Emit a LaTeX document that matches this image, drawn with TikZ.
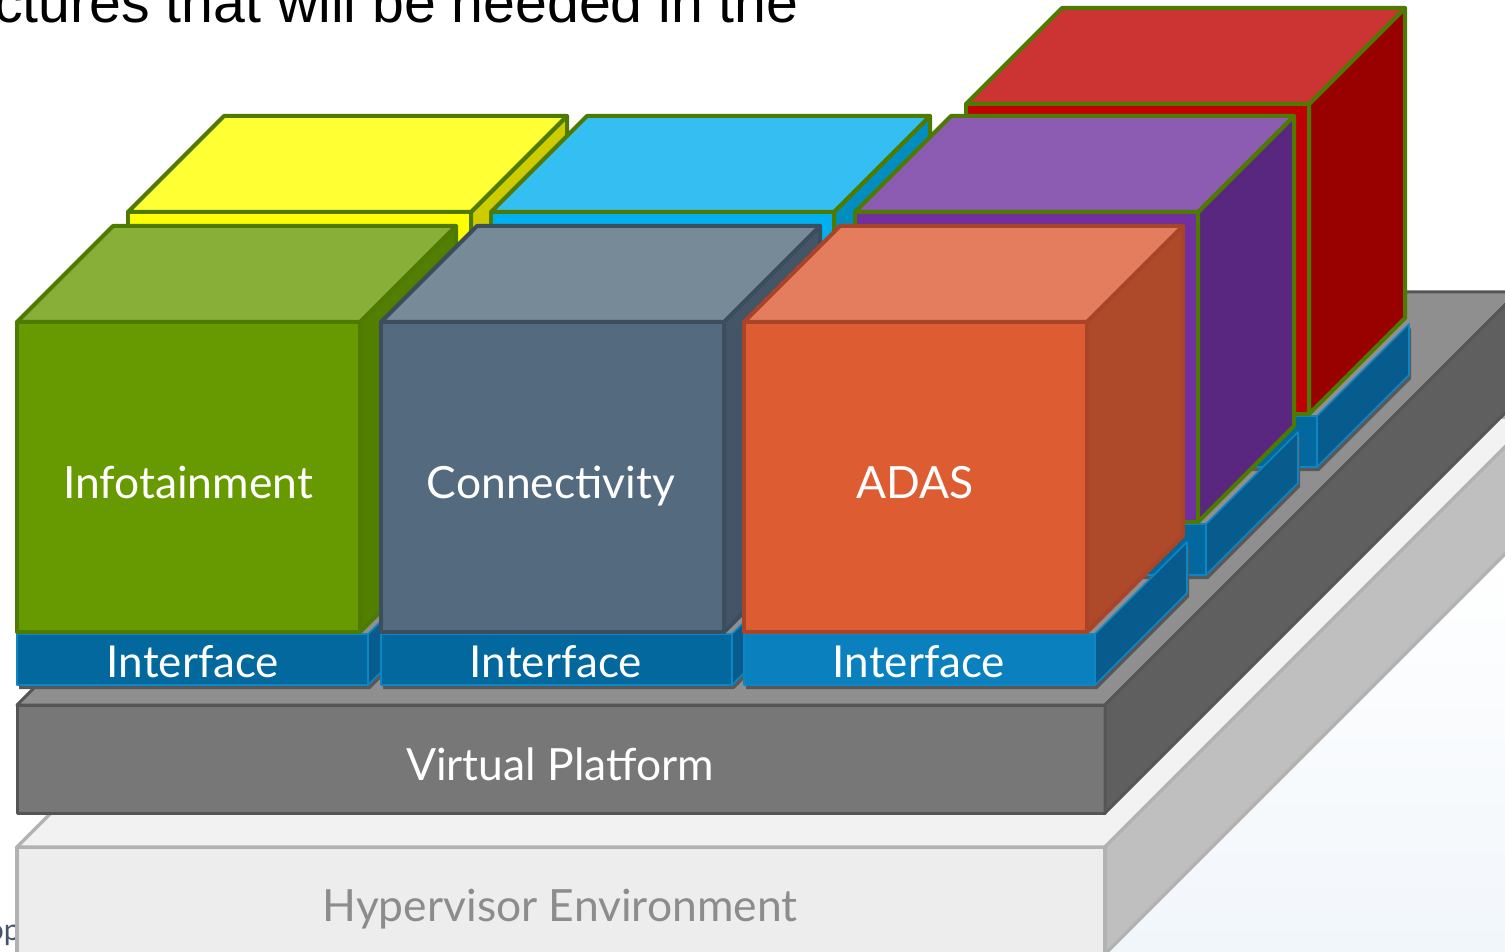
\documentclass[tikz,border=0pt]{standalone}
\usepackage{fontspec}
\newfontfamily\lato{Lato}
\newfontfamily\arialf{Liberation Sans}
\definecolor{gEdge}{HTML}{4E7A00}
\definecolor{gFront}{HTML}{679A01}
\definecolor{gTop}{HTML}{88AF37}
\definecolor{gRight}{HTML}{527F00}
\definecolor{sEdge}{HTML}{3C4D5D}
\definecolor{sFront}{HTML}{546A7F}
\definecolor{sTop}{HTML}{768A98}
\definecolor{sRight}{HTML}{435566}
\definecolor{oEdge}{HTML}{A84428}
\definecolor{oFront}{HTML}{DE5C32}
\definecolor{oTop}{HTML}{E47D5E}
\definecolor{oRight}{HTML}{AE4A29}
\definecolor{yFront}{HTML}{FFFF00}
\definecolor{yTop}{HTML}{FFFF33}
\definecolor{yRight}{HTML}{CCCC00}
\definecolor{cFront}{HTML}{00B0F0}
\definecolor{cTop}{HTML}{35BEF2}
\definecolor{cRight}{HTML}{008DC0}
\definecolor{pFront}{HTML}{7030A0}
\definecolor{pTop}{HTML}{8C5BB2}
\definecolor{pRight}{HTML}{592680}
\definecolor{rFront}{HTML}{C00000}
\definecolor{rTop}{HTML}{CC3333}
\definecolor{rRight}{HTML}{990000}
\definecolor{iFront}{HTML}{03689E}
\definecolor{iFrontL}{HTML}{0B80BF}
\definecolor{iRight}{HTML}{075C8D}
\definecolor{iEdge}{HTML}{0D86C6}
\definecolor{shadowg}{HTML}{585858}
\definecolor{vFront}{HTML}{777777}
\definecolor{vTop}{HTML}{8F8F8F}
\definecolor{vRight}{HTML}{5F5F5F}
\definecolor{vEdge}{HTML}{555555}
\definecolor{hFront}{HTML}{EDEDED}
\definecolor{hTop}{HTML}{F2F2F2}
\definecolor{hRight}{HTML}{BFBFBF}
\definecolor{hEdge}{HTML}{B2B2B2}
\definecolor{hText}{HTML}{8C8C8C}
\definecolor{slate}{HTML}{44546A}
\definecolor{bgblue}{HTML}{F1F6FB}
% cube: x0, ytop, front, top, right, edge
\newcommand\mycube[6]{%
  \filldraw[fill=#3, draw=#6, line width=2pt] (#1,#2) rectangle ({#1+343},{#2+310});
  \filldraw[fill=#5, draw=#6, line width=2pt] ({#1+343},#2) -- ({#1+439},{#2-96}) -- ({#1+439},{#2+214}) -- ({#1+343},{#2+310}) -- cycle;
  \filldraw[fill=#4, draw=#6, line width=2pt] (#1,#2) -- ({#1+96},{#2-96}) -- ({#1+439},{#2-96}) -- ({#1+343},#2) -- cycle;
}
% interface: x0, ybottom, front colour
\newcommand\myiface[3]{%
  \fill[shadowg] ({#1+2},{#2-47}) -- ({#1+353},{#2-47}) -- ({#1+445},{#2-139}) -- ({#1+445},{#2-88}) -- ({#1+353},{#2+4}) -- ({#1+2},{#2+4}) -- cycle;
  \filldraw[fill=#3, draw=iEdge, line width=0.8pt] (#1,{#2-51}) rectangle ({#1+351},#2);
  \filldraw[fill=iRight, draw=iEdge, line width=0.8pt] ({#1+351},{#2-51}) -- ({#1+443},{#2-143}) -- ({#1+443},{#2-92}) -- ({#1+351},#2) -- cycle;
}
\tikzset{
  cubelabel/.style={anchor=base, text=white, font=\lato\fontsize{22.2}{22.2}\selectfont, inner sep=0pt},
  ifacelabel/.style={anchor=base, text=white, font=\lato\fontsize{22}{22}\selectfont, inner sep=0pt},
}
\begin{document}
\begin{tikzpicture}[x=0.5pt, y=-0.5pt, line join=round]
\useasboundingbox (0,0) rectangle (1505,952);
\clip (0,0) rectangle (1505,952);
\fill[white] (0,0) rectangle (1505,952);
% faint background lower right
\shade[top color=white, bottom color=bgblue] (1105,953) -- (1505,553) -- (1505,952) -- cycle;
% title fragment
\node[anchor=base east, inner sep=0pt, font=\arialf\fontsize{28.6}{28.6}\selectfont] (title) at (799,23) {ctures that will be needed in the};
% cut-off footer word
\node[anchor=base east, inner sep=0pt, text=slate, font=\lato\fontsize{15}{15}\selectfont] (foot) at (21,940) {op};
% hypervisor
\filldraw[fill=hFront, draw=hEdge, line width=1.75pt] (17,847) rectangle (1105,954);
\filldraw[fill=hTop, draw=hEdge, line width=1.75pt] (17,847) -- (447,417) -- (1535,417) -- (1105,847) -- cycle;
\filldraw[fill=hRight, draw=hEdge, line width=1.75pt] (1105,847) -- (1535,417) -- (1535,524) -- (1105,954) -- cycle;
\node[cubelabel, text=hText] (hyp) at (560,921) {Hypervisor Environment};
% virtual platform
\filldraw[fill=vFront, draw=vEdge, line width=1.5pt] (17,705) rectangle (1105,813);
\filldraw[fill=vTop, draw=vEdge, line width=1.5pt] (17,705) -- (430,292) -- (1518,292) -- (1105,705) -- cycle;
\filldraw[fill=vRight, draw=vEdge, line width=1.5pt] (1105,705) -- (1518,292) -- (1518,400) -- (1105,813) -- cycle;
\node[cubelabel] (vp) at (560,780) {Virtual Platform};
% row 3
\myiface{966}{467}{iFront}
\mycube{966}{104}{rFront}{rTop}{rRight}{gEdge}
% row 2
\myiface{128}{575}{iFront}
\mycube{128}{212}{yFront}{yTop}{yRight}{gEdge}
\myiface{491}{575}{iFront}
\mycube{491}{212}{cFront}{cTop}{cRight}{gEdge}
\myiface{855}{575}{iFront}
\mycube{855}{212}{pFront}{pTop}{pRight}{gEdge}
% row 1
\myiface{17}{685}{iFront}
\mycube{17}{322}{gFront}{gTop}{gRight}{gEdge}
\myiface{381}{685}{iFront}
\mycube{381}{322}{sFront}{sTop}{sRight}{sEdge}
\myiface{744}{685}{iFrontL}
\mycube{744}{322}{oFront}{oTop}{oRight}{oEdge}
\node[cubelabel] (info) at (188,498) {Infotainment};
\node[cubelabel] (conn) at (551,498) {Connectivity};
\node[cubelabel] (adas) at (915,498) {ADAS};
\node[ifacelabel] (if1) at (193,677) {Interface};
\node[ifacelabel] (if2) at (556,677) {Interface};
\node[ifacelabel] (if3) at (919,677) {Interface};
\end{tikzpicture}
\end{document}
